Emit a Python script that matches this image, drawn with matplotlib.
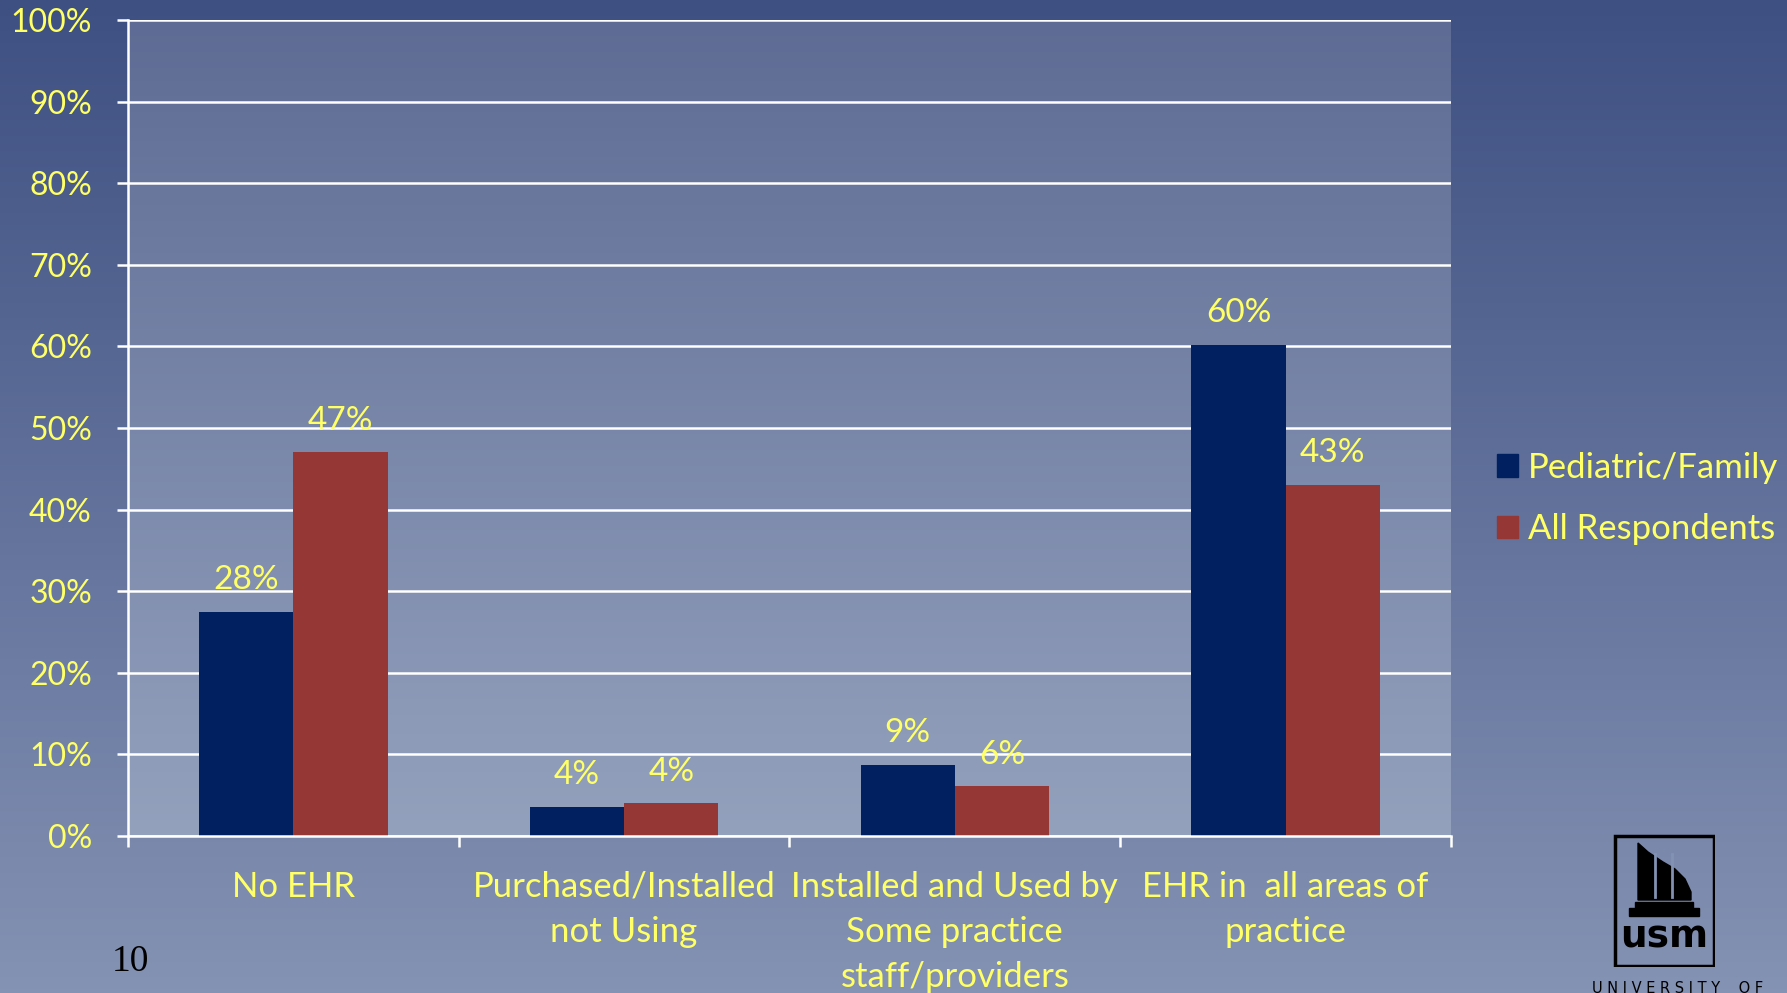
import numpy as np
import matplotlib.pyplot as plt
from matplotlib.patches import Rectangle, Polygon, Patch

# data
categories = ['No EHR', 'Purchased/Installed\nnot Using',
              'Installed and Used by\nSome practice\nstaff/providers',
              'EHR in  all areas of\npractice']
pediatric = [27.5, 3.6, 8.7, 60.2]
all_resp = [47.0, 4.0, 6.1, 43.0]
ped_labels = ['28%', '4%', '9%', '60%']
all_labels = ['47%', '4%', '6%', '43%']
series_names = ['Pediatric/Family', 'All Respondents']

YELLOW = '#FFFF66'
BLUE = '#002060'
RED = '#953735'
plt.rcParams['font.family'] = ['Lato', 'DejaVu Sans']

W, H = 1787, 993
fig = plt.figure(figsize=(W / 100, H / 100), dpi=100)

# slide background gradient
bg = fig.add_axes([0, 0, 1, 1], zorder=-10)
grad = np.linspace(0, 1, 256)[:, None]
top_c = np.array([62, 80, 130]) / 255
bot_c = np.array([132, 146, 179]) / 255
img = top_c[None, None, :] * (1 - grad[:, :, None]) + bot_c[None, None, :] * grad[:, :, None]
bg.imshow(img, aspect='auto', extent=[0, 1, 0, 1])
bg.axis('off')

ax = fig.add_axes([128 / W, 1 - 836 / H, (1451 - 128) / W, (836 - 20) / H])
ax.set_xlim(-0.5, 3.5)
ax.set_ylim(0, 100)

# plot area gradient
p_top = np.array([94, 108, 149]) / 255
p_bot = np.array([148, 161, 189]) / 255
pimg = p_top[None, None, :] * (1 - grad[:, :, None]) + p_bot[None, None, :] * grad[:, :, None]
ax.imshow(pimg, aspect='auto', extent=[-0.5, 3.5, 0, 100], zorder=0)

x = np.arange(len(categories))
w = 0.285
b1 = ax.bar(x - w / 2, pediatric, w, color=BLUE, zorder=3)
b2 = ax.bar(x + w / 2, all_resp, w, color=RED, zorder=3)

for bars, labs in [(b1, ped_labels), (b2, all_labels)]:
    for rect, lab in zip(bars, labs):
        ax.annotate(lab, (rect.get_x() + rect.get_width() / 2, rect.get_height()),
                    xytext=(0, 12), textcoords='offset points', ha='center', va='bottom',
                    color=YELLOW, fontsize=24, zorder=4)

ax.set_yticks(np.arange(0, 101, 10))
ax.set_yticklabels([f'{v}%' for v in range(0, 101, 10)])
ax.yaxis.grid(True, color='white', lw=1.8, zorder=1)
ax.set_axisbelow(False)
ax.set_xticks(x)
ax.set_xticklabels(categories, linespacing=1.5)
ax.set_xticks(np.arange(-0.5, 4, 1), minor=True)
ax.tick_params(axis='x', which='major', length=0, pad=25, labelsize=25, labelcolor=YELLOW)
ax.tick_params(axis='x', which='minor', length=8, width=1.8, color='white', direction='out')
ax.tick_params(axis='y', length=8, width=1.8, color='white', pad=18, labelsize=23, labelcolor=YELLOW)
for s in ['top', 'right']:
    ax.spines[s].set_visible(False)
for s in ['left', 'bottom']:
    ax.spines[s].set_color('white')
    ax.spines[s].set_linewidth(1.8)
    ax.spines[s].set_zorder(5)
for g in ax.get_ygridlines():
    g.set_zorder(1)

handles = [Patch(color=BLUE), Patch(color=RED)]
leg = fig.legend(handles, series_names, loc='center left', bbox_to_anchor=(1497 / W, 1 - 498.5 / H),
                 frameon=False, borderaxespad=0, borderpad=0, handlelength=0.6, handleheight=0.6,
                 handletextpad=0.3, labelspacing=0.85, fontsize=25)
for t in leg.get_texts():
    t.set_color(YELLOW)

# page number
fig.text(130 / W, 1 - 962 / H, '10', family='Liberation Serif', fontsize=27, color='black',
         ha='center', va='center')

# logo
lg = fig.add_axes([1613 / W, 1 - 967 / H, 102 / W, 133 / H])
lg.set_xlim(0, 102)
lg.set_ylim(133, 0)
lg.axis('off')
lg.add_patch(Rectangle((1.5, 1.5), 99, 130, fill=False, ec='black', lw=2.5))
lg.add_patch(Polygon([(25, 66), (25, 9), (35, 18), (50, 28), (62, 35), (72, 45), (78, 58), (78, 66)],
                     closed=True, color='black'))
for cx in [42, 59]:
    lg.plot([cx, cx], [20, 63], color='#8391B2', lw=2)
lg.add_patch(Polygon([(22, 68), (80, 68), (80, 74), (86, 74), (86, 82), (16, 82), (16, 74), (22, 74)],
                     closed=True, color='black'))
lg.text(51, 103, 'usm', ha='center', va='center', fontsize=27, fontweight='bold',
        family='DejaVu Sans Condensed', color='black')
fig.text(1678 / W, 1 - 981 / H, 'U N I V E R S I T Y    O F', ha='center', va='top',
         fontsize=10.5, color='black', family='DejaVu Sans')

fig.savefig('out.png', dpi=100)
